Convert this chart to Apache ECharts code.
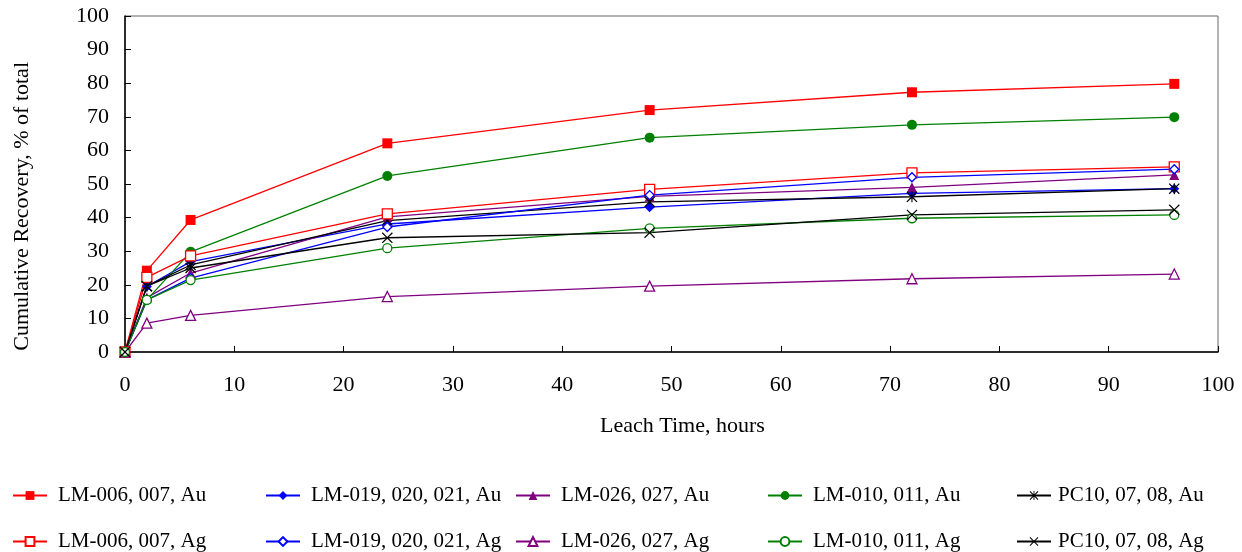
<!DOCTYPE html>
<html>
<head>
<meta charset="utf-8">
<script src="https://cdn.jsdelivr.net/npm/echarts@6/dist/echarts.min.js"></script>
<style>
html,body{margin:0;padding:0;background:#fff;}
#chart{width:1242px;height:552px;}
</style>
</head>
<body>
<div id="chart"></div>
<script>
// Leach time (hours)
var hours = [0, 2, 6, 24, 48, 72, 96];
var seriesNames = [
  'LM-006, 007, Au', 'LM-019, 020, 021, Au', 'LM-026, 027, Au', 'LM-010, 011, Au', 'PC10, 07, 08, Au',
  'LM-006, 007, Ag', 'LM-019, 020, 021, Ag', 'LM-026, 027, Ag', 'LM-010, 011, Ag', 'PC10, 07, 08, Ag'
];
var lm006Au = [0, 24.2, 39.3, 62.1, 72.0, 77.3, 79.8];
var lm019Au = [0, 19.5, 26.9, 38.1, 43.1, 47.2, 48.6];
var lm026Au = [0, 16.2, 23.5, 40.2, 46.3, 49.0, 52.7];
var lm010Au = [0, 15.5, 29.8, 52.4, 63.8, 67.6, 69.9];
var pc10Au  = [0, 19.6, 25.9, 39.1, 44.7, 46.2, 48.6];
var lm006Ag = [0, 22.2, 28.6, 41.1, 48.4, 53.3, 55.1];
var lm019Ag = [0, 15.5, 22.0, 37.2, 46.7, 52.0, 54.4];
var lm026Ag = [0, 8.6, 10.9, 16.5, 19.6, 21.8, 23.2];
var lm010Ag = [0, 15.5, 21.4, 30.9, 36.8, 39.8, 40.8];
var pc10Ag  = [0, 19.6, 25.0, 34.0, 35.5, 40.8, 42.3];
var xTicks = [0, 10, 20, 30, 40, 50, 60, 70, 80, 90, 100];
var yTicks = [0, 10, 20, 30, 40, 50, 60, 70, 80, 90, 100];

var FONT = '"Liberation Serif", "Times New Roman", serif';
var RED = '#ff0000', BLUE = '#0000ff', PURPLE = '#800080', GREEN = '#008000', BLACK = '#000000';
var xPath = 'path://M0,0.8 L0.8,0 L5,4.2 L9.2,0 L10,0.8 L5.8,5 L10,9.2 L9.2,10 L5,5.8 L0.8,10 L0,9.2 L4.2,5 Z';
var starPath = 'path://M0,0.8 L0.8,0 L5,4.2 L9.2,0 L10,0.8 L5.8,5 L10,9.2 L9.2,10 L5,5.8 L0.8,10 L0,9.2 L4.2,5 Z M4.5,0 L5.5,0 L5.5,10 L4.5,10 Z';

function pairs(vals) { return hours.map(function (h, i) { return [h, vals[i]]; }); }

function mk(name, vals, color, symbol, size, filled) {
  return {
    name: name, type: 'line', data: pairs(vals),
    symbol: symbol, symbolSize: size,
    lineStyle: { color: color, width: 1.3 },
    itemStyle: { color: filled ? color : '#ffffff', borderColor: color, borderWidth: filled ? 0 : 1.3 },
    animation: false
  };
}

var series = [
  mk(seriesNames[0], lm006Au, RED, 'rect', 10, true),
  mk(seriesNames[1], lm019Au, BLUE, 'diamond', 10, true),
  mk(seriesNames[2], lm026Au, PURPLE, 'triangle', 10, true),
  mk(seriesNames[3], lm010Au, GREEN, 'circle', 10, true),
  mk(seriesNames[4], pc10Au, BLACK, starPath, 11, true),
  mk(seriesNames[5], lm006Ag, RED, 'rect', 10, false),
  mk(seriesNames[6], lm019Ag, BLUE, 'diamond', 9, false),
  mk(seriesNames[7], lm026Ag, PURPLE, 'triangle', 10, false),
  mk(seriesNames[8], lm010Ag, GREEN, 'circle', 9, false),
  mk(seriesNames[9], pc10Ag, BLACK, xPath, 11, true)
];

var colLeft = [12, 265, 515, 767, 1016];
var legends = colLeft.map(function (l, c) {
  return {
    orient: 'vertical', left: l, top: 485, height: 100, padding: 0,
    itemWidth: 34, itemHeight: 11, itemGap: 25,
    data: [seriesNames[c], seriesNames[c + 5]],
    textStyle: { fontFamily: FONT, fontSize: 21, color: '#000', padding: [0, 0, 0, c === 4 ? 2 : 6] }
  };
});

var chart = echarts.init(document.getElementById('chart'), null, { renderer: 'canvas' });
chart.setOption({
  backgroundColor: '#ffffff',
  animation: false,
  legend: legends,
  grid: { left: 125, right: 24, top: 16, bottom: 200, show: true, borderColor: '#666', borderWidth: 1 },
  xAxis: {
    type: 'value', min: 0, max: 100, interval: 10,
    name: 'Leach Time, hours', nameLocation: 'middle', nameGap: 63,
    nameTextStyle: { fontFamily: FONT, fontSize: 22, color: '#000', padding: [0, 0, 0, 22] },
    axisLine: { lineStyle: { color: '#000', width: 1.5 } },
    axisTick: { inside: true, length: 6, lineStyle: { color: '#000' } },
    axisLabel: { fontFamily: FONT, fontSize: 22, color: '#000', margin: 22,
      formatter: function (v) { return xTicks.indexOf(v) >= 0 ? String(v) : ''; } },
    splitLine: { show: false }
  },
  yAxis: {
    type: 'value', min: 0, max: 100, interval: 10,
    axisLine: { show: true, lineStyle: { color: '#000', width: 1.5 } },
    axisTick: { show: true, inside: true, length: 6, lineStyle: { color: '#000' } },
    axisLabel: { fontFamily: FONT, fontSize: 22, color: '#000', margin: 16,
      formatter: function (v) { return yTicks.indexOf(v) >= 0 ? String(v) : ''; } },
    splitLine: { show: false }
  },
  graphic: [{
    type: 'text', left: 11, top: 62, rotation: Math.PI / 2,
    style: { text: 'Cumulative Recovery, % of total', font: '22px ' + FONT, fill: '#000' }
  }],
  series: series
});
</script>
</body>
</html>
